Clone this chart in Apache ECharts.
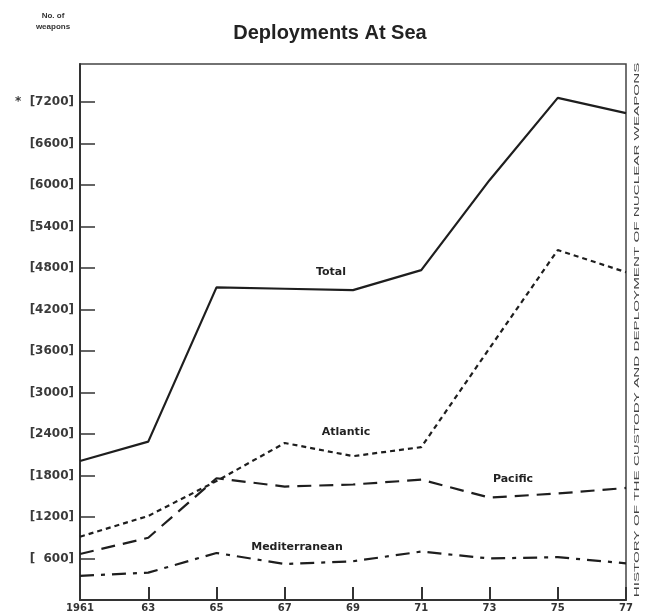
<!DOCTYPE html>
<html>
<head>
<meta charset="utf-8">
<script src="https://cdn.jsdelivr.net/npm/echarts@6/dist/echarts.min.js"></script>
<style>
html,body{margin:0;padding:0;background:#fff;}
#c{width:645px;height:614px;}
</style>
</head>
<body>
<div id="c"></div>
<script>
// Data
const years = ['1961', '63', '65', '67', '69', '71', '73', '75', '77'];
const total = [2010, 2290, 4520, 4500, 4480, 4770, 6070, 7260, 7040];
const atlantic = [915, 1215, 1720, 2270, 2080, 2210, 3640, 5060, 4740];
const pacific = [665, 900, 1760, 1640, 1670, 1740, 1480, 1540, 1620];
const mediterranean = [350, 395, 680, 520, 560, 700, 600, 620, 530];
const yTicks = [600, 1200, 1800, 2400, 3000, 3600, 4200, 4800, 5400, 6000, 6600, 7200];

const FONT = 'Liberation Sans';
const LFONT = 'DejaVu Sans';
const chart = echarts.init(document.getElementById('c'), null, {renderer: 'canvas'});

function mkSeries(name, data, type, width) {
  return {
    name: name, type: 'line', data: data, symbol: 'none', smooth: false,
    lineStyle: {color: '#1e1e1e', width: width, type: type},
    emphasis: {disabled: true}, z: 3
  };
}

const option = {
  backgroundColor: '#ffffff',
  animation: false,
  grid: {left: 80, right: 19, top: 64, bottom: 14, show: true, borderColor: '#444', borderWidth: 1.5, backgroundColor: 'transparent'},
  xAxis: {
    type: 'category', data: years, boundaryGap: false,
    axisLine: {lineStyle: {color: '#333', width: 2}},
    axisTick: {inside: true, length: 13, lineStyle: {color: '#333', width: 2}},
    axisLabel: {fontFamily: LFONT, fontSize: 10, fontWeight: 'bold', color: '#333', margin: 3},
    splitLine: {show: false}
  },
  yAxis: {
    type: 'value', min: 0, max: 7750,
    axisLine: {show: true, lineStyle: {color: '#333', width: 2}},
    axisTick: {show: true, inside: true, length: 15, customValues: yTicks, lineStyle: {color: '#333', width: 1.5}},
    axisLabel: {
      customValues: yTicks, fontFamily: LFONT, fontSize: 12, fontWeight: 'bold', color: '#3a3a3a', margin: 6,
      formatter: function (v) {
        if (v === 7200) return '*  [7200]';
        if (v === 600) return '[  600]';
        return '[' + v + ']';
      }
    },
    splitLine: {show: false}
  },
  series: [
    mkSeries('Total', total, 'solid', 2.2),
    mkSeries('Atlantic', atlantic, [5, 4], 2.2),
    mkSeries('Pacific', pacific, [14, 8], 2.2),
    mkSeries('Mediterranean', mediterranean, [14, 7, 4, 7], 2.2)
  ],
  graphic: [
    {type: 'text', x: 330, y: 33, style: {text: 'Deployments At Sea', font: 'bold 20px "' + FONT + '"', fill: '#222', align: 'center', verticalAlign: 'middle'}},
    {type: 'text', x: 53, y: 16, style: {text: 'No. of', font: 'bold 8px "' + FONT + '"', fill: '#333', align: 'center', verticalAlign: 'middle'}},
    {type: 'text', x: 53, y: 27, style: {text: 'weapons', font: 'bold 8px "' + FONT + '"', fill: '#333', align: 'center', verticalAlign: 'middle'}},
    {type: 'text', x: 331, y: 272, style: {text: 'Total', font: 'bold 11px "' + LFONT + '"', fill: '#222', align: 'center', verticalAlign: 'middle'}},
    {type: 'text', x: 346, y: 432, style: {text: 'Atlantic', font: 'bold 11px "' + LFONT + '"', fill: '#222', align: 'center', verticalAlign: 'middle'}},
    {type: 'text', x: 513, y: 479, style: {text: 'Pacific', font: 'bold 11px "' + LFONT + '"', fill: '#222', align: 'center', verticalAlign: 'middle'}},
    {type: 'text', x: 297, y: 547, style: {text: 'Mediterranean', font: 'bold 11px "' + LFONT + '"', fill: '#222', align: 'center', verticalAlign: 'middle'}},
    {type: 'text', x: 637, y: 330, rotation: Math.PI / 2, scaleX: 1.9,
     style: {text: 'HISTORY OF THE CUSTODY AND DEPLOYMENT OF NUCLEAR WEAPONS', font: '8px "' + FONT + '"', fill: '#444', align: 'center', verticalAlign: 'middle'}}
  ]
};
chart.setOption(option);
</script>
</body>
</html>
